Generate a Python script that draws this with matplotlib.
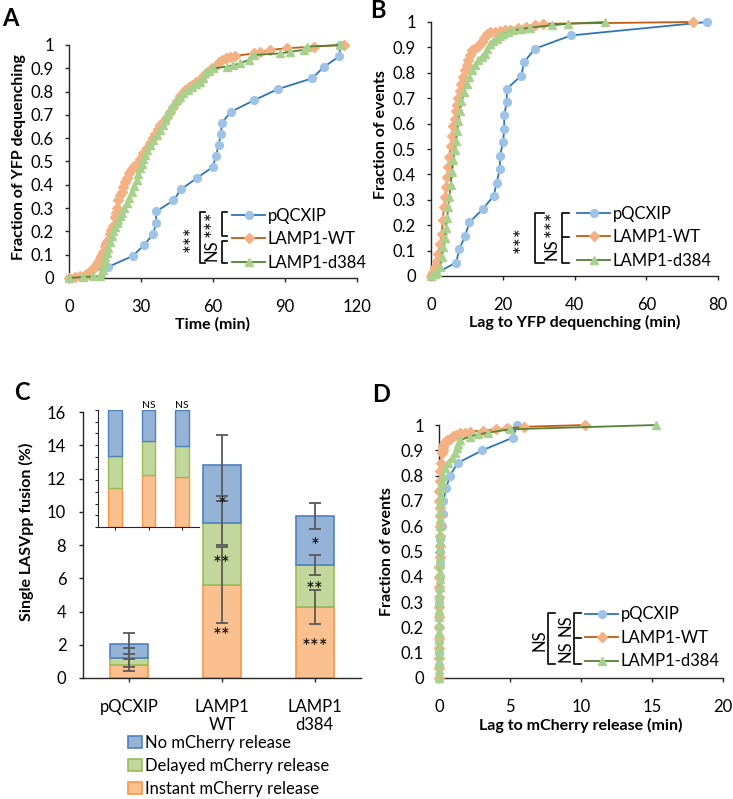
import matplotlib
matplotlib.use("Agg")
import numpy as np
import matplotlib.pyplot as plt
from matplotlib.lines import Line2D
from matplotlib.patches import Patch
from matplotlib.ticker import FuncFormatter

plt.rcParams['font.family'] = ['Lato', 'DejaVu Sans']

# ---- Panel A : time to YFP dequenching (cumulative fraction) ----
a_pq_x = [0, 16.4, 26.6, 31.4, 35.2, 36.2, 36.4, 43.5, 46.7, 53.3, 59.8, 61.3,
          62.3, 63.3, 63.7, 67.6, 76.9, 86.9, 101.3, 106.1, 112.7, 113.0]
a_pq_y = [0, 0.048, 0.095, 0.143, 0.190, 0.238, 0.286, 0.333, 0.381, 0.429, 0.476,
          0.524, 0.571, 0.619, 0.667, 0.714, 0.762, 0.810, 0.857, 0.905, 0.952, 1.0]
a_wt_x = [0, 2.5, 4.6, 6.5, 8.0, 8.8, 9.8, 10.8, 11.5, 12.2, 12.9, 13.5, 14.0, 15.0,
          15.6, 16.2, 17.1, 17.7, 18.3, 19.2, 19.6, 20.1, 20.6, 21.3, 22.0, 22.7, 23.4,
          24.1, 24.8, 26.0, 27.2, 28.2, 29.5, 31.0, 32.4, 33.8, 34.9, 35.9, 37.0, 38.0,
          39.4, 40.8, 42.1, 43.5, 44.9, 46.3, 47.3, 48.4, 49.8, 51.2, 53.0, 54.7, 56.0,
          57.4, 59.5, 61.6, 62.6, 63.7, 65.5, 67.2, 69.3, 76.9, 79.7, 83.9, 90.8, 102.0,
          114.5]
a_wt_y = [0, 0.004, 0.007, 0.012, 0.02, 0.03, 0.04, 0.05, 0.06, 0.07, 0.08, 0.095, 0.11,
          0.136, 0.15, 0.165, 0.19, 0.205, 0.225, 0.26, 0.28, 0.30, 0.336, 0.355, 0.37,
          0.39, 0.41, 0.43, 0.45, 0.465, 0.48, 0.49, 0.51, 0.536, 0.557, 0.58, 0.60, 0.62,
          0.64, 0.657, 0.674, 0.69, 0.713, 0.736, 0.758, 0.78, 0.793, 0.807, 0.818, 0.83,
          0.84, 0.85, 0.868, 0.886, 0.90, 0.914, 0.925, 0.936, 0.943, 0.95, 0.953, 0.964,
          0.971, 0.979, 0.986, 0.993, 1.0]
a_d384_x = [0, 6.0, 10.2, 12.9, 13.5, 14.0, 14.3, 14.8, 15.2, 15.7, 16.4, 17.1, 17.8,
            18.5, 19.2, 19.9, 20.6, 21.3, 22.0, 23.0, 24.0, 25.0, 26.1, 27.1, 28.2, 28.9,
            29.6, 30.3, 30.9, 31.6, 32.4, 33.8, 35.2, 36.6, 38.0, 39.0, 40.0, 41.0, 42.1,
            43.5, 45.0, 46.3, 47.7, 49.5, 51.2, 53.0, 54.7, 55.7, 56.7, 58.5, 60.2, 65.8,
            68.5, 71.3, 74.8, 76.9, 88.0, 92.2, 97.8, 99.2, 113.0]
a_d384_y = [0, 0.004, 0.007, 0.007, 0.02, 0.035, 0.05, 0.07, 0.09, 0.107, 0.13, 0.155,
            0.18, 0.20, 0.22, 0.236, 0.25, 0.265, 0.28, 0.30, 0.32, 0.345, 0.37, 0.395,
            0.42, 0.445, 0.47, 0.49, 0.51, 0.53, 0.55, 0.572, 0.593, 0.615, 0.636, 0.658,
            0.679, 0.70, 0.72, 0.742, 0.764, 0.778, 0.793, 0.807, 0.82, 0.832, 0.843, 0.86,
            0.879, 0.89, 0.90, 0.907, 0.914, 0.921, 0.936, 0.957, 0.964, 0.971, 0.979,
            0.993, 1.0]

# ---- Panel B : lag to YFP dequenching ----
b_pq_x = [0, 7.0, 7.9, 9.5, 10.7, 14.4, 17.5, 18.3, 19.2, 19.2, 20.1, 20.4, 20.4,
          21.1, 21.1, 25.2, 25.9, 29.0, 39.0, 77.0]
b_pq_y = [0, 0.053, 0.105, 0.158, 0.211, 0.263, 0.316, 0.368, 0.421, 0.474, 0.526,
          0.579, 0.632, 0.684, 0.737, 0.789, 0.842, 0.895, 0.947, 1.0]
b_wt_x = [0, 0.6, 1.1, 1.6, 2.0, 2.5, 3.0, 3.3, 3.6, 3.9, 4.2, 4.5, 4.8, 5.1, 5.5, 5.8,
          6.2, 6.6, 7.0, 7.3, 7.6, 8.0, 8.5, 9.0, 9.5, 9.9, 10.4, 10.8, 11.3, 12.0, 12.7,
          13.4, 14.1, 14.8, 15.5, 16.4, 17.8, 19.2, 20.6, 22.0, 24.3, 26.6, 29.0, 31.3,
          72.9]
b_wt_y = [0, 0.015, 0.035, 0.06, 0.088, 0.125, 0.167, 0.22, 0.27, 0.31, 0.35, 0.39,
          0.43, 0.47, 0.51, 0.55, 0.59, 0.62, 0.65, 0.675, 0.70, 0.73, 0.757, 0.785, 0.81,
          0.83, 0.85, 0.87, 0.89, 0.895, 0.90, 0.91, 0.92, 0.937, 0.954, 0.96, 0.962,
          0.965, 0.967, 0.97, 0.975, 0.98, 0.987, 0.993, 1.0]
b_d384_x = [0, 1.0, 1.6, 2.5, 3.0, 3.4, 3.8, 4.2, 4.5, 4.8, 5.1, 5.5, 5.8, 6.2, 6.6, 7.0,
            7.3, 7.6, 8.0, 8.5, 9.2, 9.9, 10.6, 11.3, 12.2, 13.2, 14.1, 15.0, 15.7, 16.4,
            17.3, 18.3, 19.2, 20.1, 21.5, 22.9, 25.2, 27.6, 33.6, 38.2, 48.6]
b_d384_y = [0, 0.008, 0.016, 0.035, 0.075, 0.114, 0.15, 0.19, 0.23, 0.27, 0.31, 0.36,
            0.41, 0.455, 0.495, 0.533, 0.57, 0.61, 0.65, 0.69, 0.725, 0.757, 0.785, 0.81,
            0.83, 0.85, 0.862, 0.875, 0.895, 0.915, 0.925, 0.934, 0.944, 0.954, 0.96,
            0.967, 0.972, 0.978, 0.987, 0.993, 1.0]

# ---- Panel D : lag to mCherry release ----
d_pq_x = [0, 0, 0.01, 0.01, 0.02, 0.02, 0.03, 0.03, 0.05, 0.06, 0.08, 0.1, 0.19, 0.3,
          0.3, 0.5, 0.77, 1.32, 3.05, 5.2, 5.5]
d_pq_y = [0, 0.05, 0.10, 0.15, 0.20, 0.25, 0.30, 0.35, 0.40, 0.45, 0.50, 0.55, 0.60,
          0.65, 0.70, 0.75, 0.80, 0.85, 0.90, 0.95, 1.0]
d_wt_x = [0, 0, 0, 0.01, 0.01, 0.01, 0.02, 0.02, 0.02, 0.03, 0.03, 0.03, 0.04, 0.04,
          0.05, 0.05, 0.05, 0.06, 0.0, 0.02, 0.05, 0.08, 0.12, 0.19, 0.25, 0.3, 0.36,
          0.42, 0.55, 0.77, 1.0, 1.2, 1.48, 1.8, 2.18, 3.1, 4.0, 4.76, 6.0, 10.3]
d_wt_y = [0, 0.04, 0.08, 0.12, 0.16, 0.20, 0.24, 0.28, 0.32, 0.36, 0.40, 0.44, 0.48,
          0.52, 0.56, 0.60, 0.64, 0.67, 0.70, 0.74, 0.78, 0.82, 0.85, 0.888, 0.90, 0.914,
          0.925, 0.934, 0.94, 0.946, 0.955, 0.962, 0.967, 0.97, 0.974, 0.978, 0.983,
          0.987, 0.993, 1.0]
d_d384_x = [0, 0, 0.01, 0.01, 0.01, 0.02, 0.02, 0.02, 0.03, 0.03, 0.03, 0.03, 0.04,
            0.04, 0.04, 0.05, 0.05, 0.05, 0.06, 0.06, 0.07, 0.08, 0.09, 0.1, 0.12, 0.15,
            0.19, 0.3, 0.42, 0.6, 0.89, 1.1, 1.25, 1.35, 1.48, 2.18, 2.77, 3.47, 5.0, 15.3]
d_d384_y = [0, 0.03, 0.06, 0.09, 0.12, 0.15, 0.18, 0.21, 0.24, 0.27, 0.30, 0.33, 0.36,
            0.39, 0.42, 0.45, 0.48, 0.51, 0.54, 0.57, 0.60, 0.63, 0.66, 0.69, 0.72, 0.75,
            0.776, 0.80, 0.83, 0.85, 0.87, 0.89, 0.91, 0.925, 0.94, 0.954, 0.963, 0.97,
            0.983, 1.0]

series_names = ['pQCXIP', 'LAMP1-WT', 'LAMP1-d384']

# ---- Panel C : single LASVpp fusion (%) ----
c_categories = ['pQCXIP', 'LAMP1\nWT', 'LAMP1\nd384']
c_instant = [0.76, 5.6, 4.26]
c_delayed = [0.47, 3.7, 2.53]
c_none = [0.84, 3.49, 2.93]
c_err_instant = [0.36, 2.29, 1.04]
c_err_delayed = [0.55, 1.33, 0.58]
c_err_none = [0.65, 1.85, 0.78]
inset_instant = [0.33, 0.445, 0.43]
inset_delayed = [0.28, 0.29, 0.265]
inset_none = [0.39, 0.265, 0.305]
c_legend = ['No mCherry release', 'Delayed mCherry release', 'Instant mCherry release']

# colours (Excel like)
LINE_C = ['#2E75B6', '#C55A11', '#548235']
MARK_C = ['#9DC3E6', '#F4B183', '#A9D18E']
MARKERS = [('o', 5.6), ('D', 4.6), ('^', 6.4)]
BAR_FILL = {'none': '#95B3D7', 'delayed': '#C3D69B', 'instant': '#FAC090'}
BAR_EDGE = {'none': '#4F81BD', 'delayed': '#9BBB59', 'instant': '#F79646'}
ERR_C = '#595959'

W, H = 733, 799


def fx(x):
    return x / W


def fy(y):
    return 1 - y / H


def axes_px(fig, left, top, right, bottom):
    return fig.add_axes([fx(left), fy(bottom), (right - left) / W, (bottom - top) / H])


def style_axis(ax):
    for s in ['top', 'right']:
        ax.spines[s].set_visible(False)
    for s in ['left', 'bottom']:
        ax.spines[s].set_linewidth(1.0)
        ax.spines[s].set_color('#262626')
    ax.tick_params(direction='out', length=3, width=1.0, color='#262626', labelsize=12)
    ax.tick_params(axis='x', pad=12)
    ax.tick_params(axis='y', pad=8)


def cdf_panel(ax, data, xmax, xstep, xlabel, ylabel, xl_pos, yl_pos):
    for i, (x, y) in enumerate(data):
        m, ms = MARKERS[i]
        ax.plot(x, y, color=LINE_C[i], lw=1.3, marker=m, ms=ms, mfc=MARK_C[i],
                mec=MARK_C[i], label=series_names[i], clip_on=False, zorder=3 + i)
    ax.set_xlim(0, xmax)
    ax.set_ylim(0, 1)
    ax.set_xticks(np.arange(0, xmax + 0.1, xstep))
    ax.set_yticks(np.arange(0, 1.01, 0.1))
    ax.yaxis.set_major_formatter(FuncFormatter(lambda v, p: f'{v:.1f}'.rstrip('0').rstrip('.') if v else '0'))
    style_axis(ax)
    ax.set_xlabel(xlabel, fontsize=11.5, fontweight='bold')
    ax.set_ylabel(ylabel, fontsize=11.5, fontweight='bold')
    ax.xaxis.set_label_coords(*xl_pos)
    ax.yaxis.set_label_coords(*yl_pos)


def cdf_legend(ax, x_left, y_mid):
    ax.legend(loc='center left', bbox_to_anchor=(fx(x_left), fy(y_mid)),
              bbox_transform=fig.transFigure, frameon=False, fontsize=12,
              handlelength=2.0, handletextpad=0.15, labelspacing=0.45, borderpad=0,
              borderaxespad=0, numpoints=1)


def bracket(x, y0, y1, stub, mids=()):
    fig.add_artist(Line2D([fx(x + stub), fx(x), fx(x), fx(x + stub)],
                          [fy(y0), fy(y0), fy(y1), fy(y1)],
                          transform=fig.transFigure, color='black', lw=1.2))
    for ym in mids:
        fig.add_artist(Line2D([fx(x), fx(x + stub)], [fy(ym), fy(ym)],
                              transform=fig.transFigure, color='black', lw=1.2))


def vtext(x, y, s, size=12):
    fig.text(fx(x), fy(y), s, rotation=90, ha='center', va='center', fontsize=size)


fig = plt.figure(figsize=(W / 100, H / 100), dpi=100)

# panel A
axA = axes_px(fig, 69, 45, 357, 278)
cdf_panel(axA, [(a_pq_x, a_pq_y), (a_wt_x, a_wt_y), (a_d384_x, a_d384_y)],
          120, 30, 'Time (min)', 'Fraction of YFP dequenching',
          (0.498, -0.168), (-0.15, 0.52))
cdf_legend(axA, 232, 239)
bracket(222, 212, 236, 5)
bracket(222, 241, 263, 5)
bracket(200, 212, 263, 5)
vtext(214, 224, '***', 15)
vtext(212, 250, 'NS')
vtext(193, 239, '***', 15)

# panel B
axB = axes_px(fig, 431, 22, 718, 276)
cdf_panel(axB, [(b_pq_x, b_pq_y), (b_wt_x, b_wt_y), (b_d384_x, b_d384_y)],
          80, 20, 'Lag to YFP dequenching (min)', 'Fraction of events',
          (0.502, -0.152), (-0.15, 0.555))
cdf_legend(axB, 577, 237)
bracket(562, 213, 263, 7, mids=(237,))
bracket(535, 213, 263, 9)
vtext(554, 224, '***', 15)
vtext(552, 249, 'NS')
vtext(523, 240, '***', 15)

# panel D
axD = axes_px(fig, 439, 425, 723, 678)
cdf_panel(axD, [(d_pq_x, d_pq_y), (d_wt_x, d_wt_y), (d_d384_x, d_d384_y)],
          20, 5, 'Lag to mCherry release (min)', 'Fraction of events',
          (0.5, -0.158), (-0.158, 0.5))
cdf_legend(axD, 585, 638)
bracket(574, 613, 664, 7, mids=(638,))
bracket(548, 613, 664, 7)
vtext(566, 625, 'NS')
vtext(566, 651, 'NS')
vtext(539, 640, 'NS')

# panel C
axC = axes_px(fig, 83, 412, 361, 678)
xc = np.arange(len(c_categories))
inst = np.array(c_instant)
dely = np.array(c_delayed)
nonr = np.array(c_none)
bw = 0.41
axC.bar(xc, inst, bw, color=BAR_FILL['instant'], edgecolor=BAR_EDGE['instant'], lw=1.2, zorder=2)
axC.bar(xc, dely, bw, bottom=inst, color=BAR_FILL['delayed'], edgecolor=BAR_EDGE['delayed'], lw=1.2, zorder=2)
axC.bar(xc, nonr, bw, bottom=inst + dely, color=BAR_FILL['none'], edgecolor=BAR_EDGE['none'], lw=1.2, zorder=2)
for top, err in [(inst, c_err_instant), (inst + dely, c_err_delayed), (inst + dely + nonr, c_err_none)]:
    axC.errorbar(xc, top, yerr=err, fmt='none', ecolor=ERR_C, elinewidth=1.3,
                 capsize=4, capthick=1.3, zorder=4)
axC.set_xlim(-0.5, 2.5)
axC.set_ylim(0, 16)
axC.set_yticks(np.arange(0, 17, 2))
axC.set_xticks(xc)
axC.set_xticklabels(c_categories)
style_axis(axC)
axC.tick_params(axis='x', pad=12)
axC.tick_params(axis='y', pad=9)
axC.set_ylabel('Single LASVpp fusion (%)', fontsize=11.5, fontweight='bold')
axC.yaxis.set_label_coords(-0.175, 0.55)

for xi, yi, s in [(1, 10.8, '*'), (1, 7.25, '**'), (1, 2.9, '**'),
                  (2, 8.35, '*'), (2, 5.66, '**'), (2, 2.25, '***')]:
    axC.text(xi, yi - 0.45, s, ha='center', va='center', fontsize=15, zorder=5)

handles = [Patch(facecolor=BAR_FILL[k], edgecolor=BAR_EDGE[k], lw=1.2)
           for k in ['none', 'delayed', 'instant']]
fig.legend(handles, c_legend, loc='center left', bbox_to_anchor=(fx(128), fy(766)),
           bbox_transform=fig.transFigure, frameon=False, fontsize=12,
           handlelength=0.85, handleheight=0.75, handletextpad=0.15,
           labelspacing=0.42, borderpad=0, borderaxespad=0)

# inset with normalised fractions
axI = axes_px(fig, 98, 410, 199, 527)
ii = np.array(inset_instant)
idl = np.array(inset_delayed)
inr = np.array(inset_none)
axI.bar(xc, ii, bw, color=BAR_FILL['instant'], edgecolor=BAR_EDGE['instant'], lw=1.0)
axI.bar(xc, idl, bw, bottom=ii, color=BAR_FILL['delayed'], edgecolor=BAR_EDGE['delayed'], lw=1.0)
axI.bar(xc, inr, bw, bottom=ii + idl, color=BAR_FILL['none'], edgecolor=BAR_EDGE['none'], lw=1.0)
axI.set_xlim(-0.5, 2.5)
axI.set_ylim(0, 1)
axI.set_yticks(np.arange(0, 1.01, 0.1))
axI.set_xticks(xc)
axI.set_xticklabels([])
axI.set_yticklabels([])
for s in ['top', 'right']:
    axI.spines[s].set_visible(False)
for s in ['left', 'bottom']:
    axI.spines[s].set_color('#262626')
axI.tick_params(direction='out', length=2.5, width=0.8, color='#262626')
for xi in [1, 2]:
    axI.text(xi, 1.0, 'NS', ha='center', va='bottom', fontsize=7.5)

# panel letters
for lx, ly, s in [(10, 18, 'A'), (378, 10, 'B'), (22, 393, 'C'), (381, 394, 'D')]:
    fig.text(fx(lx), fy(ly), s, ha='center', va='center', fontsize=17, fontweight='bold')

fig.savefig('out.png', dpi=100)
